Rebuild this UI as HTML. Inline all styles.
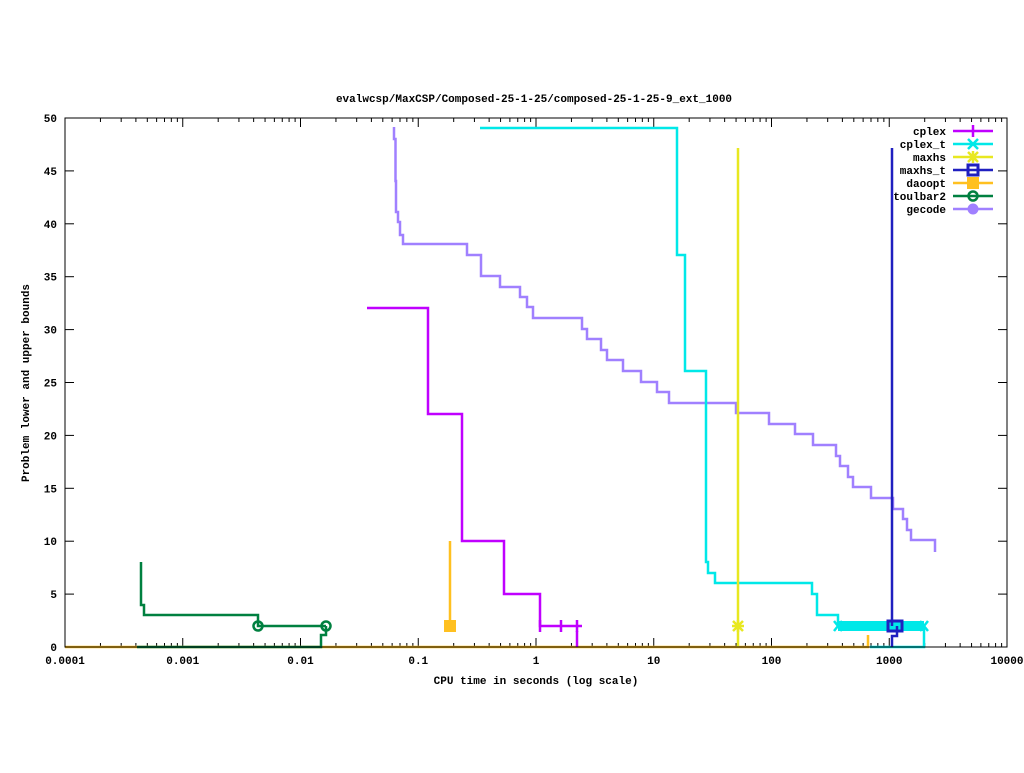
<!DOCTYPE html>
<html><head><meta charset="utf-8"><style>
html,body{margin:0;padding:0;background:#fff;}
svg text{font-family:"Liberation Mono","DejaVu Sans Mono",monospace;font-size:11px;font-weight:bold;fill:#000;}
</style></head><body>
<svg id="s" width="1024" height="768" xmlns="http://www.w3.org/2000/svg">
<rect width="1024" height="768" fill="#fff"/>
<text x="534" y="102" text-anchor="middle">evalwcsp/MaxCSP/Composed-25-1-25/composed-25-1-25-9_ext_1000</text>
<text x="536" y="684" text-anchor="middle">CPU time in seconds (log scale)</text>
<text transform="translate(29,383) rotate(-90)" text-anchor="middle">Problem lower and upper bounds</text>
<g id="ticks" stroke="#000" stroke-width="1"></g>
<g id="lbl"></g>
<g fill="none" stroke-width="2.5">
<!-- daoopt -->
<polyline stroke="#ffc020" points="65,647 868,647 868,635"/>
<polyline stroke="#ffc020" points="450,541 450,626"/>
<!-- toulbar2 -->
<polyline stroke="#008040" points="141,562 141,605 144,605 144,615 258,615 258,626 326,626"/>
<polyline stroke="#008040" points="137,647 321,647 321,635 326,635 326,626"/>
<!-- gecode -->
<polyline stroke="#a080ff" points="394,127 394,139 395.5,139 395.5,181 396,181 396,212 398,212 398,222 400,222 400,235 403,235 403,244 467,244 467,255 481,255 481,276 500,276 500,287 520,287 520,297 527,297 527,307 533,307 533,318 582,318 582,329 587,329 587,339 601,339 601,350 607,350 607,360 623,360 623,371 641,371 641,382 657,382 657,392 669,392 669,403 736,403 736,413 769,413 769,424 795,424 795,434 813,434 813,445 836,445 836,456 840,456 840,466 848,466 848,477 853,477 853,487 871,487 871,498 893,498 893,509 903,509 903,519 907,519 907,530 911,530 911,540 935,540 935,552"/>
<!-- cplex_t -->
<polyline stroke="#00e8e8" points="480,128 677,128 677,255 685,255 685,371 706,371 706,562 708,562 708,573 715,573 715,583 812,583 812,594 817,594 817,615 838,615 838,626 924,626"/>
<polyline stroke="#00e8e8" points="870,647 924,647 924,626"/>
<rect x="838" y="621" width="86" height="10" fill="#00e8e8" stroke="none"/>
<!-- cplex -->
<polyline stroke="#c000ff" points="367,308 428,308 428,414 462,414 462,541 504,541 504,594 540,594 540,626 582,626"/>
<polyline stroke="#c000ff" points="577,631 577,647"/>
<!-- maxhs -->
<polyline stroke="#e8e820" points="738,148 738,647"/>
<!-- maxhs_t -->
<polyline stroke="#2020c0" points="892,148 892,626"/>
<polyline stroke="#2020c0" points="892,647 892,636 897,636 897,626"/>
</g>
<g stroke-width="2.5" fill="none">
<path stroke="#c000ff" d="M540,620v12M561,620v12M577,620v12"/>
<path stroke="#00e8e8" d="M834,621l8,10M842,621l-8,10M920,621l8,10M928,621l-8,10"/>
<path stroke="#e8e820" d="M733,621l10,10M743,621l-10,10M738,620v12M732,626h12"/>
<rect x="888" y="621" width="14" height="10" stroke="#2020c0" stroke-width="3"/>
<rect x="444" y="620" width="12" height="12" fill="#ffc020" stroke="none"/>
<circle cx="258" cy="626" r="4.5" stroke="#008040"/>
<circle cx="326" cy="626" r="4.5" stroke="#008040"/>
</g>
<!-- frame -->
<rect x="65" y="118" width="942" height="529" fill="none" stroke="#000" stroke-width="1"/>
<!-- legend -->
<g text-anchor="end">
<text x="946" y="135">cplex</text>
<text x="946" y="148">cplex_t</text>
<text x="946" y="161">maxhs</text>
<text x="946" y="174">maxhs_t</text>
<text x="946" y="187">daoopt</text>
<text x="946" y="200">toulbar2</text>
<text x="946" y="213">gecode</text>
</g>
<g stroke-width="2.5" fill="none">
<path stroke="#c000ff" d="M953,131h40M973,125v12"/>
<path stroke="#00e8e8" d="M953,144h40M968,139l10,10M978,139l-10,10"/>
<path stroke="#e8e820" d="M953,157h40M968,152l10,10M978,152l-10,10M973,151v12"/>
<path stroke="#2020c0" d="M953,170h40"/><rect x="968" y="165" width="10" height="10" stroke="#2020c0" stroke-width="3"/>
<path stroke="#ffc020" d="M953,183h40"/><rect x="967" y="177" width="12" height="12" fill="#ffc020" stroke="none"/>
<path stroke="#008040" d="M953,196h40"/><circle cx="973" cy="196" r="4.5" stroke="#008040"/>
<path stroke="#a080ff" d="M953,209h40"/><circle cx="973" cy="209" r="5.5" fill="#a080ff" stroke="none"/>
</g>
</svg>
<script>
var NS="http://www.w3.org/2000/svg",t=document.getElementById("ticks"),l=document.getElementById("lbl");
function ln(a,b,c,d){var e=document.createElementNS(NS,"line");e.setAttribute("x1",a);e.setAttribute("y1",b);e.setAttribute("x2",c);e.setAttribute("y2",d);t.appendChild(e);}
function tx(x,y,s,an){var e=document.createElementNS(NS,"text");e.setAttribute("x",x);e.setAttribute("y",y);e.setAttribute("text-anchor",an);e.textContent=s;l.appendChild(e);}
var labs=["0.0001","0.001","0.01","0.1","1","10","100","1000","10000"];
for(var d=0;d<=8;d++){var x=65+d*117.75;ln(x,647,x,638);ln(x,118,x,127);tx(x,664,labs[d],"middle");
 if(d<8)for(var k=2;k<10;k++){var xm=x+Math.log10(k)*117.75;ln(xm,647,xm,643);ln(xm,118,xm,122);}}
for(var v=0;v<=50;v+=5){var y=647-v*10.58;ln(65,y,74,y);ln(1007,y,998,y);tx(57,y+4,String(v),"end");}
</script>
</body></html>
